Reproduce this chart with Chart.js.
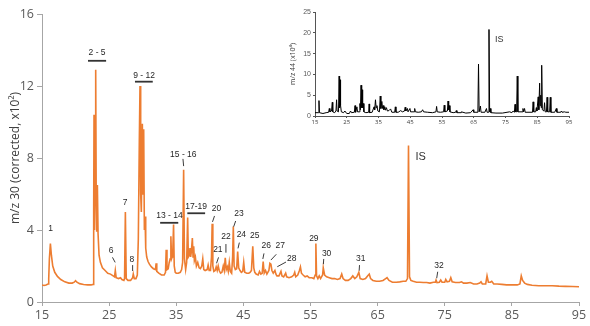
<!DOCTYPE html>
<html lang="en">
<head>
<meta charset="UTF-8">
<title>m/z 30 chromatogram</title>
<script src="https://cdn.jsdelivr.net/npm/chart.js"></script>
<style>
  body { margin: 0; background: #fff; }
  .wrap { position: relative; width: 590px; height: 326px; }
  #main { position: absolute; left: 0; top: 0; }
  #inset { position: absolute; left: 280px; top: 0; }
</style>
</head>
<body>
<div class="wrap">
  <canvas id="main" width="590" height="326"></canvas>
  <canvas id="inset" width="300" height="130"></canvas>
</div>
<script>
// main trace, m/z 30 (corrected, x10^2) against retention time (min)
const rt30 = [
  15.0, 15.3, 15.6, 15.9, 16.0, 16.1, 16.25, 16.4, 16.6, 16.9, 17.3, 17.8, 18.4, 19.0, 19.5, 19.8, 20.0, 20.2, 20.6, 21.2, 21.8, 22.3, 22.6,
  22.7, 22.75, 22.82, 22.9, 23.0, 23.08, 23.15, 23.25, 23.35, 23.5, 23.7, 24.0, 24.4, 24.8, 25.2, 25.6, 25.8, 25.92, 26.05, 26.4, 26.7, 26.9,
  27.2, 27.3, 27.42, 27.55, 27.8, 28.2, 28.5, 28.6, 28.75, 29.0, 29.2, 29.35, 29.5, 29.6, 29.7, 29.8, 29.95, 30.05, 30.15, 30.25, 30.35, 30.45,
  30.6, 30.8, 31.0, 31.3, 31.6, 31.9, 32.0, 32.1, 32.4, 32.8, 33.2, 33.4, 33.5, 33.62, 33.8, 33.95, 34.1, 34.2, 34.3, 34.4, 34.5, 34.6, 34.7,
  34.85, 35.0, 35.3, 35.6, 35.8, 35.95, 36.1, 36.22, 36.4, 36.55, 36.7, 36.8, 36.95, 37.05, 37.15, 37.25, 37.4, 37.5, 37.6, 37.7, 37.85, 38.0,
  38.2, 38.4, 38.6, 38.8, 38.95, 39.1, 39.3, 39.6, 39.75, 39.9, 40.1, 40.25, 40.35, 40.45, 40.6, 40.8, 40.95, 41.1, 41.25, 41.4, 41.6, 41.8,
  42.0, 42.15, 42.3, 42.45, 42.6, 42.75, 42.9, 43.05, 43.25, 43.4, 43.5, 43.62, 43.8, 44.0, 44.15, 44.3, 44.5, 44.7, 44.9, 45.05, 45.2, 45.5,
  45.8, 46.0, 46.2, 46.4, 46.55, 46.7, 46.9, 47.2, 47.4, 47.6, 47.8, 47.95, 48.1, 48.3, 48.5, 48.8, 48.95, 49.1, 49.25, 49.45, 49.7, 49.85,
  50.0, 50.3, 50.6, 50.75, 51.0, 51.3, 51.45, 51.8, 52.2, 52.5, 52.65, 52.8, 53.1, 53.35, 53.5, 53.65, 53.9, 54.2, 54.5, 54.8, 55.2, 55.5,
  55.7, 55.8, 55.9, 56.1, 56.3, 56.5, 56.8, 56.9, 57.1, 57.4, 57.8, 58.2, 58.6, 59.0, 59.4, 59.65, 59.85, 60.2, 60.6, 61.0, 61.3, 61.6, 61.9,
  62.2, 62.4, 62.8, 63.2, 63.5, 63.75, 63.95, 64.3, 64.8, 65.3, 65.8, 66.2, 66.4, 66.7, 67.2, 67.8, 68.3, 68.8, 69.2, 69.45, 69.6, 69.75,
  69.95, 70.3, 70.8, 71.3, 71.8, 72.3, 72.8, 73.3, 73.6, 73.7, 73.85, 74.2, 74.4, 74.6, 75.0, 75.15, 75.35, 75.7, 75.9, 76.1, 76.6, 77.2,
  77.5, 77.8, 78.3, 78.8, 79.3, 79.8, 80.2, 80.4, 80.6, 81.1, 81.3, 81.5, 81.8, 82.0, 82.3, 82.8, 83.5, 84.2, 85.0, 85.8, 86.2, 86.4, 86.6,
  86.9, 87.3, 88.0, 89.0, 90.0, 91.0, 92.0, 93.0, 94.0, 95.0
];
const m30 = [
  0.95, 0.92, 0.95, 1.0, 1.3, 2.4, 3.25, 2.6, 2.0, 1.65, 1.42, 1.25, 1.12, 1.05, 1.05, 1.1, 1.18, 1.1, 1.02, 0.97, 0.95, 0.95, 0.98,
  5.0, 10.4, 4.0, 8.0, 12.9, 5.5, 3.9, 6.5, 3.8, 2.6, 2.2, 1.9, 1.75, 1.6, 1.55, 1.45, 1.4, 1.75, 1.35, 1.3, 1.35, 1.25,
  1.2, 1.3, 5.0, 1.3, 1.2, 1.2, 1.35, 1.55, 1.3, 1.3, 1.5, 3.5, 9.0, 12.0, 6.0, 5.0, 9.9, 6.0, 9.6, 4.0, 4.75, 3.0,
  2.5, 2.25, 2.1, 1.95, 1.85, 1.8, 2.15, 1.7, 1.6, 1.5, 1.5, 1.65, 2.9, 1.8, 1.85, 2.2, 2.4, 3.65, 2.4, 2.5, 3.0, 4.3, 2.0,
  1.65, 1.6, 1.6, 1.65, 1.8, 2.2, 7.35, 2.4, 1.8, 2.2, 4.7, 2.5, 2.6, 3.0, 2.5, 2.8, 3.55, 2.5, 3.1, 2.3, 2.5, 2.0,
  2.2, 1.9, 1.85, 2.0, 2.4, 1.8, 1.75, 1.8, 2.05, 1.75, 1.75, 2.5, 4.35, 2.0, 1.7, 1.75, 1.95, 1.75, 2.0, 1.75, 1.6, 1.65,
  2.0, 1.75, 2.45, 1.8, 1.95, 1.7, 2.2, 1.7, 1.6, 2.5, 4.2, 2.0, 1.8, 1.85, 2.8, 1.9, 1.75, 1.65, 1.7, 2.2, 1.65, 1.6,
  1.6, 1.65, 1.75, 3.1, 1.9, 1.65, 1.55, 1.5, 1.7, 1.55, 1.6, 2.25, 1.6, 1.75, 1.55, 1.75, 2.15, 2.1, 1.75, 1.6, 1.75, 1.55,
  1.45, 1.45, 1.7, 1.45, 1.4, 1.6, 1.4, 1.35, 1.4, 1.5, 1.65, 1.4, 1.5, 1.75, 1.95, 1.6, 1.5, 1.4, 1.45, 1.35, 1.35, 1.3,
  1.5, 3.25, 1.45, 1.3, 1.45, 1.3, 1.5, 1.9, 1.5, 1.4, 1.35, 1.3, 1.3, 1.25, 1.3, 1.55, 1.3, 1.2, 1.2, 1.3, 1.45, 1.3, 1.4,
  1.65, 1.3, 1.25, 1.3, 1.45, 1.55, 1.3, 1.2, 1.15, 1.15, 1.2, 1.3, 1.35, 1.2, 1.1, 1.1, 1.12, 1.15, 1.15, 1.3, 8.7, 1.4,
  1.2, 1.15, 1.1, 1.1, 1.08, 1.08, 1.05, 1.1, 1.1, 1.22, 1.08, 1.1, 1.22, 1.1, 1.1, 1.25, 1.12, 1.15, 1.35, 1.12, 1.08, 1.08,
  1.12, 1.05, 1.05, 1.08, 1.0, 1.0, 1.05, 1.12, 1.0, 1.0, 1.45, 1.1, 1.1, 1.15, 1.0, 1.0, 0.98, 0.95, 0.95, 0.95, 1.0, 1.45, 1.2,
  1.05, 0.98, 0.93, 0.9, 0.9, 0.9, 0.88, 0.87, 0.86, 0.85
];

// inset trace, m/z 44 (x10^4)
const rt44 = [
  15.0, 16.1, 16.25, 16.4, 17.5, 18.5, 19.3, 19.5, 19.7, 20.2, 20.45, 20.6, 21.2, 21.6, 21.8, 21.95, 22.4, 22.6, 22.75, 22.9, 23.05, 23.3,
  24.0, 24.4, 25.0, 25.8, 26.2, 26.5, 27.4, 27.6, 27.8, 28.2, 28.4, 29.0, 29.15, 29.3, 29.5, 29.7, 29.85, 30.0, 30.2, 30.4, 31.0, 31.9,
  32.05, 32.2, 33.0, 33.6, 33.8, 34.05, 34.25, 34.5, 34.8, 35.3, 35.55, 35.75, 36.05, 36.3, 36.5, 36.7, 37.0, 37.2, 37.5, 37.8, 38.3,
  38.8, 39.2, 40.1, 40.3, 40.5, 41.2, 42.0, 42.5, 43.2, 43.4, 43.6, 44.1, 44.3, 44.9, 45.1, 46.2, 46.4, 46.6, 47.5, 48.5, 48.9, 49.2,
  50.5, 52.0, 53.1, 53.3, 53.5, 54.5, 55.5, 55.7, 55.9, 56.7, 56.9, 57.1, 57.3, 57.5, 58.5, 59.3, 59.5, 59.7, 61.0, 61.1, 62.5, 64.0,
  64.8, 65.0, 66.3, 66.5, 66.7, 67.1, 67.3, 68.5, 69.0, 69.2, 69.6, 69.8, 70.0, 70.2, 70.4, 72.0, 74.0, 76.3, 77.0, 77.4, 77.8, 78.0,
  78.2, 78.5, 78.7, 78.9, 80.2, 80.5, 80.7, 81.0, 81.2, 83.5, 83.7, 83.9, 84.5, 84.7, 84.9, 85.3, 85.5, 85.75, 85.9, 86.1, 86.25, 86.4,
  86.6, 87.1, 87.3, 87.5, 87.9, 88.1, 88.3, 88.9, 89.1, 89.3, 90.5, 91.0, 91.2, 92.4, 92.6, 92.8, 93.6, 94.0, 95.0
];
const m44 = [
  0.8, 0.8, 3.7, 0.8, 0.6, 0.8, 0.9, 1.8, 1.0, 1.2, 3.3, 1.0, 0.8, 1.2, 3.9, 1.2, 1.0, 9.6, 2.0, 8.7, 2.5, 1.0,
  0.8, 1.2, 0.6, 0.6, 1.2, 0.8, 0.9, 2.5, 0.9, 2.2, 1.0, 1.0, 3.0, 1.5, 7.4, 2.0, 6.3, 2.0, 3.0, 1.0, 0.8, 0.9,
  2.9, 0.8, 0.9, 2.2, 1.5, 3.9, 2.0, 2.5, 1.2, 1.0, 4.8, 1.8, 3.5, 1.8, 2.5, 1.5, 2.2, 1.4, 2.0, 1.2, 1.3,
  1.7, 0.9, 0.9, 2.2, 0.9, 0.9, 1.3, 1.0, 1.2, 2.1, 1.2, 1.8, 1.0, 1.8, 1.0, 1.0, 1.8, 1.0, 0.9, 1.0, 1.5, 1.0,
  0.9, 0.8, 1.0, 2.3, 1.0, 0.9, 1.0, 2.6, 1.0, 1.2, 3.6, 1.5, 2.5, 1.0, 0.8, 0.9, 1.3, 0.8, 0.8, 1.0, 0.7, 0.8,
  1.5, 0.9, 0.9, 12.5, 1.0, 2.4, 0.9, 0.9, 1.8, 0.9, 0.9, 20.8, 1.0, 1.8, 0.8, 0.7, 0.7, 1.0, 0.8, 1.2, 0.9, 2.8,
  1.0, 1.0, 9.6, 1.0, 1.0, 1.8, 1.0, 1.8, 0.9, 0.9, 3.4, 1.0, 1.0, 2.0, 1.2, 4.6, 1.5, 7.9, 2.5, 5.0, 2.0, 12.2,
  1.5, 1.2, 3.2, 1.0, 1.0, 4.5, 1.0, 1.0, 4.5, 0.9, 0.9, 1.8, 0.9, 0.9, 1.2, 0.9, 1.0, 0.9, 0.9
];

// peak numbering: [text, time, value]
const peakText = [
  ['1', 16.3, 4.05], ['2 - 5', 23.2, 13.85], ['6', 25.3, 2.85], ['7', 27.4, 5.5], ['8', 28.4, 2.37],
  ['9 - 12', 30.2, 12.6], ['13 - 14', 34.0, 4.78], ['15 - 16', 36.05, 8.2], ['17-19', 37.95, 5.3],
  ['20', 41.0, 5.2], ['21', 41.2, 2.9], ['22', 42.4, 3.63], ['23', 44.35, 4.9], ['24', 44.7, 3.72],
  ['25', 46.7, 3.67], ['26', 48.4, 3.15], ['27', 50.5, 3.15], ['28', 52.2, 2.39], ['29', 55.5, 3.5],
  ['30', 57.4, 2.7], ['31', 62.5, 2.43], ['32', 74.15, 2.02]
];
// leader ticks: [t1, v1, t2, v2]
const peakLeaders = [
  [25.5, 2.48, 25.9, 2.2], [28.5, 2.05, 28.5, 1.72], [36.0, 7.95, 36.1, 7.55], [40.4, 4.45, 40.7, 4.78],
  [41.0, 2.15, 41.3, 2.48], [42.4, 3.22, 42.4, 2.74], [43.55, 4.18, 43.85, 4.5], [44.2, 2.98, 44.4, 3.3],
  [47.9, 2.39, 48.07, 2.7], [49.1, 2.33, 49.9, 2.65], [50.05, 1.96, 51.35, 2.22], [56.97, 2.39, 56.92, 2.1],
  [62.3, 2.05, 62.25, 1.74], [73.8, 1.32, 73.95, 1.68]
];
// group bars: [from, to, value]
const groupBars = [[21.85, 24.55, 13.4], [28.85, 31.5, 12.24], [32.6, 35.3, 4.4], [36.65, 39.3, 4.93]];

const orange = '#ED7D31';
const axisGrey = '#A6A6A6';
const tickGrey = '#595959';
const uiFont = '"Open Sans", "Liberation Sans", sans-serif';

function annotate(texts, leaders, bars, isLabel, isSize, yTickFont) {
  return {
    id: 'annot',
    afterDraw(chart) {
      const ctx = chart.ctx, xs = chart.scales.x, ys = chart.scales.y;
      ctx.save();
      ctx.fillStyle = '#262626';
      ctx.strokeStyle = '#262626';
      ctx.textAlign = 'center';
      ctx.textBaseline = 'middle';
      ctx.font = '8.5px "Liberation Sans", Arial, sans-serif';
      texts.forEach(([s, t, v]) => ctx.fillText(s, xs.getPixelForValue(t), ys.getPixelForValue(v)));
      ctx.lineWidth = 0.9;
      leaders.forEach(([t1, v1, t2, v2]) => {
        ctx.beginPath();
        ctx.moveTo(xs.getPixelForValue(t1), ys.getPixelForValue(v1));
        ctx.lineTo(xs.getPixelForValue(t2), ys.getPixelForValue(v2));
        ctx.stroke();
      });
      ctx.lineWidth = 1.8;
      ctx.strokeStyle = '#333';
      bars.forEach(([t1, t2, v]) => {
        const y = ys.getPixelForValue(v);
        ctx.beginPath();
        ctx.moveTo(xs.getPixelForValue(t1), y);
        ctx.lineTo(xs.getPixelForValue(t2), y);
        ctx.stroke();
      });
      if (isLabel) {
        ctx.fillStyle = '#333';
        ctx.font = isSize + 'px "Liberation Sans", Arial, sans-serif';
        ctx.fillText('IS', xs.getPixelForValue(isLabel[0]), ys.getPixelForValue(isLabel[1]));
      }
      if (yTickFont) {
        // inset y tick labels, placed from the scale's own ticks
        ctx.fillStyle = '#595959';
        ctx.font = yTickFont;
        ctx.textAlign = 'right';
        const xr = chart.chartArea.left - 4;
        ys.ticks.forEach(tk => ctx.fillText(String(tk.value), xr, ys.getPixelForValue(tk.value)));
      }
      ctx.restore();
    }
  };
}

function points(xs, ys) {
  return xs.map((x, i) => ({ x: x, y: ys[i] }));
}

new Chart(document.getElementById('main'), {
  type: 'line',
  data: {
    datasets: [{
      data: points(rt30, m30),
      borderColor: orange,
      borderWidth: 1.6,
      pointRadius: 0,
      tension: 0
    }]
  },
  options: {
    responsive: false,
    animation: false,
    layout: { padding: { top: 14, right: 11, left: 0, bottom: 0 } },
    plugins: { legend: { display: false }, tooltip: { enabled: false } },
    scales: {
      x: {
        type: 'linear', min: 15, max: 95,
        afterFit(s) { s.height = 24; },
        ticks: { stepSize: 10, color: tickGrey, font: { family: uiFont, size: 12.5 }, padding: 2, maxRotation: 0 },
        grid: { drawOnChartArea: false, drawTicks: true, tickLength: 4, color: axisGrey },
        border: { color: axisGrey, width: 1 }
      },
      y: {
        min: 0, max: 16,
        afterFit(s) { s.width = 42; },
        ticks: { stepSize: 4, color: tickGrey, font: { family: uiFont, size: 12.5 }, padding: 3 },
        grid: { drawOnChartArea: false, drawTicks: true, tickLength: 5, color: axisGrey },
        border: { color: axisGrey, width: 1 },
        title: { display: true, text: 'm/z 30 (corrected, x10²)', color: '#404040', font: { family: uiFont, size: 12 }, padding: { top: 8, bottom: 0 } }
      }
    }
  },
  plugins: [annotate(peakText, peakLeaders, groupBars, [71.4, 8.04], 11, null)]
});

new Chart(document.getElementById('inset'), {
  type: 'line',
  data: {
    datasets: [{
      data: points(rt44, m44),
      borderColor: '#000',
      borderWidth: 1,
      pointRadius: 0,
      tension: 0
    }]
  },
  options: {
    responsive: false,
    animation: false,
    layout: { padding: { top: 12, right: 11, left: 0, bottom: 0 } },
    plugins: { legend: { display: false }, tooltip: { enabled: false } },
    scales: {
      x: {
        type: 'linear', min: 15, max: 95,
        afterFit(s) { s.height = 14; },
        ticks: { stepSize: 10, color: '#404040', font: { family: uiFont, size: 6 }, padding: 1, maxRotation: 0 },
        grid: { drawOnChartArea: false, drawTicks: true, tickLength: 2, color: '#555' },
        border: { color: '#555', width: 1 }
      },
      y: {
        min: 0, max: 25,
        afterFit(s) { s.width = 35; },
        ticks: { stepSize: 5, display: false },
        grid: { drawOnChartArea: false, drawTicks: true, tickLength: 2, color: '#555' },
        border: { color: '#555', width: 1 },
        title: { display: true, text: 'm/z 44 (x10⁴)', color: '#404040', font: { family: uiFont, size: 7 }, padding: { top: 9, bottom: 0 } }
      }
    }
  },
  plugins: [annotate([], [], [], [73.0, 18.5], 9, '7px "Liberation Sans", Arial, sans-serif')]
});
</script>
</body>
</html>
